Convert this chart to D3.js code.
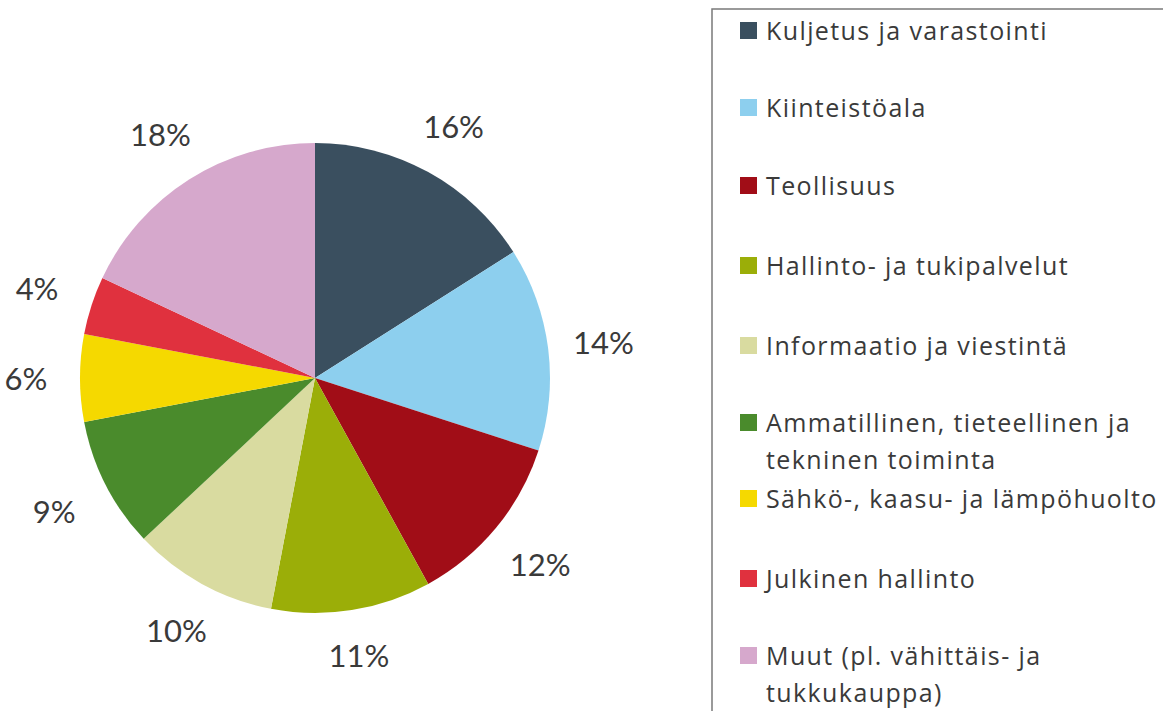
<!DOCTYPE html>
<html><head><meta charset="utf-8">
<script src="https://cdn.jsdelivr.net/npm/d3@7"></script>
<style>body{margin:0;background:#fff}svg{display:block}</style>
</head><body>
<svg id="c" width="1163" height="711"></svg>
<script>
const categories = ["Kuljetus ja varastointi","Kiinteistöala","Teollisuus","Hallinto- ja tukipalvelut","Informaatio ja viestintä","Ammatillinen, tieteellinen ja|tekninen toiminta","Sähkö-, kaasu- ja lämpöhuolto","Julkinen hallinto","Muut (pl. vähittäis- ja|tukkukauppa)"];
const values = [16,14,12,11,10,9,6,4,18];
const colors = ["#3a4f5f","#8dcfee","#a10d17","#9bae08","#d9dba0","#4a8b2c","#f5d900","#e0313e","#d6a8cc"];

const svg = d3.select("#c");
const cx = 315, cy = 378, R = 235;
const font = "Lato, 'Open Sans', sans-serif";
const legendFont = "'Open Sans', Lato, sans-serif";
const pie = d3.pie().sort(null).value(d => d)(values);
const arc = d3.arc().innerRadius(0).outerRadius(R);
const g = svg.append("g").attr("transform", `translate(${cx},${cy})`);
g.selectAll("path").data(pie).join("path").attr("d", arc).attr("fill", (d,i) => colors[i]);

const fmt = d3.format(".0%");
const total = d3.sum(values);
g.selectAll("text.lab").data(pie).join("text").attr("class","lab")
  .each(function(d){
    const a = (d.startAngle + d.endAngle)/2;
    const s = Math.sin(a), c = Math.cos(a);
    const hw = 28, hh = 15, gap = 26;
    const r = R + gap + hw*Math.abs(s) + hh*Math.abs(c);
    d3.select(this).attr("x", r*s).attr("y", -r*c);
  })
  .attr("text-anchor","middle").attr("dominant-baseline","central")
  .attr("font-family", font).attr("font-size", 31).attr("fill","#3a3a3a")
  .text(d => fmt(d.value/total));

// legend
svg.append("rect").attr("x",712).attr("y",9).attr("width",470).attr("height",720)
  .attr("fill","none").attr("stroke","#7a7a7a").attr("stroke-width",1.5);
const rowY = [30,107,185,265,345,422,498,578,655];
const lg = svg.append("g");
categories.forEach((name,i) => {
  const y = rowY[i];
  lg.append("rect").attr("x",740).attr("y",y-8).attr("width",17).attr("height",17).attr("fill",colors[i]);
  const t = lg.append("text").attr("x",766).attr("y",y).attr("dominant-baseline","central")
    .attr("font-family",legendFont).attr("font-size",25).attr("letter-spacing",1.4).attr("fill","#3a3a3a");
  name.split("|").forEach((ln,j) => {
    t.append("tspan").attr("x",766).attr("dy", j===0?0:37).text(ln);
  });
});
</script>
</body></html>
